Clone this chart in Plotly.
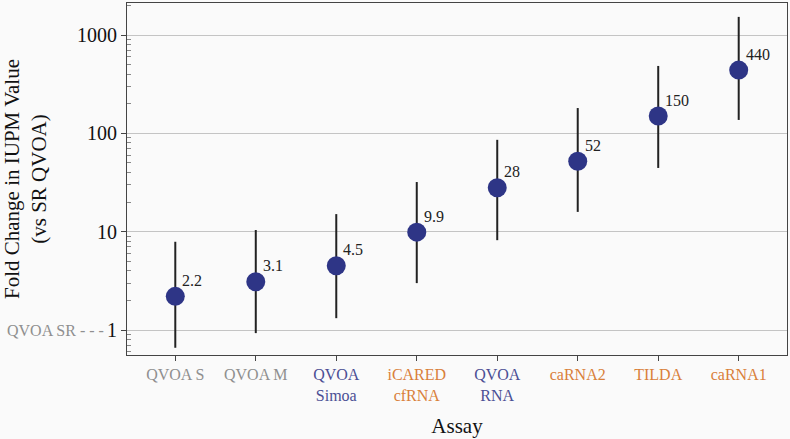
import math
import plotly.graph_objects as go

assays = ["QVOA S", "QVOA M", "QVOA<br>Simoa", "iCARED<br>cfRNA", "QVOA<br>RNA", "caRNA2", "TILDA", "caRNA1"]
label_colors = ["#8f8f8f", "#8f8f8f", "#4b4f94", "#d9803a", "#4b4f94", "#d9803a", "#d9803a", "#d9803a"]
fold_change = [2.2, 3.1, 4.5, 9.9, 28, 52, 150, 440]
value_text = ["2.2", "3.1", "4.5", "9.9", "28", "52", "150", "440"]
ci_upper = [7.9, 10.4, 15.1, 32, 86, 181, 485, 1530]
ci_lower = [0.66, 0.93, 1.32, 3.0, 8.2, 15.9, 44.5, 137]

xs = list(range(len(assays)))
FONT = "Liberation Serif"

fig = go.Figure()
fig.add_trace(go.Scatter(
    x=xs, y=fold_change,
    mode="markers",
    marker=dict(color="#2e3586", size=19),
    error_y=dict(type="data", symmetric=False,
                 array=[u - v for u, v in zip(ci_upper, fold_change)],
                 arrayminus=[v - l for v, l in zip(fold_change, ci_lower)],
                 color="#222222", thickness=2, width=0),
    showlegend=False,
))

for x, y, t in zip(xs, fold_change, value_text):
    fig.add_annotation(x=x, y=math.log10(y), xref="x", yref="y", text=t, showarrow=False,
                       xanchor="left", yanchor="middle", xshift=5, yshift=16,
                       font=dict(family=FONT, size=16, color="#222222"))

ticktext = [f"<span style='color:{c}'>{a}</span>" for a, c in zip(assays, label_colors)]

fig.update_layout(
    width=790, height=439, autosize=False,
    margin=dict(l=127, r=3, t=3, b=84),
    paper_bgcolor="#fafafa", plot_bgcolor="#fafafa",
    font=dict(family=FONT, color="#111111"),
    xaxis=dict(
        range=[-0.6, 7.6], tickmode="array", tickvals=xs, ticktext=ticktext,
        tickfont=dict(family=FONT, size=16), showgrid=False, zeroline=False,
        showline=True, linecolor="#444444", linewidth=1, mirror=True,
        ticks="outside", ticklen=5, tickcolor="#444444", automargin=False,
        title=dict(text="Assay", font=dict(family=FONT, size=21), standoff=15),
    ),
    yaxis=dict(
        type="log", range=[-0.254, 3.326], automargin=False,
        tickmode="array", tickvals=[1, 10, 100, 1000], ticktext=["1", "10", "100", "1000"],
        tickfont=dict(family=FONT, size=20, color="#111111"),
        showgrid=True, gridcolor="#c4c4c4", gridwidth=1.2, zeroline=False,
        showline=True, linecolor="#444444", linewidth=1, mirror=True,
        ticks="outside", ticklen=5, tickcolor="#444444",
        minor=dict(ticks="inside", ticklen=4, tickcolor="#888888", showgrid=False,
                   tickvals=[m * 10 ** e for e in range(-1, 4) for m in range(2, 10)]),
        title=dict(text="Fold Change in IUPM Value<br>(vs SR QVOA)", font=dict(family=FONT, size=21), standoff=26),
    ),
)

fig.add_annotation(
    x=0, xref="paper", xanchor="right", xshift=-21,
    y=0, yref="y", yanchor="middle",
    text="QVOA SR - - -", showarrow=False,
    font=dict(family=FONT, size=16, color="#8f8f8f"),
)

fig.write_html(
    "out.html",
    config={"responsive": False, "displayModeBar": False},
    default_width="790px", default_height="439px",
    post_script="document.body.style.margin='0';document.body.style.background='#fafafa';",
)
